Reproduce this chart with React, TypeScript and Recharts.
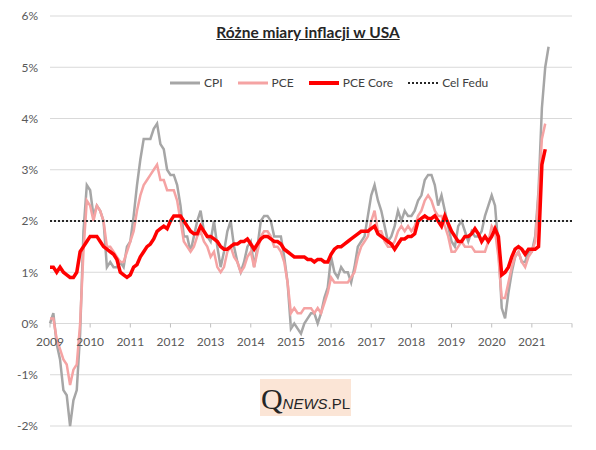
import {
  CartesianGrid,
  Legend,
  Line,
  LineChart,
  ReferenceLine,
  XAxis,
  YAxis,
} from 'recharts';

// monthly y/y inflation, index 0 = Jan 2009
const cpi = [
  0.0, 0.2, -0.4, -0.7, -1.3, -1.4, -2.0, -1.5, -1.3, -0.2, 1.8, 2.7,
  2.6, 2.1, 2.3, 2.2, 2.0, 1.1, 1.2, 1.1, 1.1, 1.2, 1.1, 1.5,
  1.6, 2.1, 2.7, 3.2, 3.6, 3.6, 3.6, 3.8, 3.9, 3.5, 3.4, 3.0,
  2.9, 2.9, 2.7, 2.3, 1.7, 1.7, 1.4, 1.7, 2.0, 2.2, 1.8, 1.7,
  1.6, 2.0, 1.5, 1.1, 1.4, 1.8, 2.0, 1.5, 1.2, 1.0, 1.2, 1.5,
  1.6, 1.1, 1.5, 2.0, 2.1, 2.1, 2.0, 1.7, 1.7, 1.7, 1.3, 0.8,
  -0.1, 0.0, -0.1, -0.2, 0.0, 0.1, 0.2, 0.2, 0.0, 0.2, 0.5, 0.7,
  1.3, 1.0, 0.9, 1.1, 1.0, 1.0, 0.8, 1.1, 1.5, 1.6, 1.7, 2.1,
  2.5, 2.7, 2.4, 2.2, 1.9, 1.6, 1.7, 1.9, 2.2, 2.0, 2.2, 2.1,
  2.1, 2.2, 2.4, 2.5, 2.8, 2.9, 2.9, 2.7, 2.3, 2.5, 2.2, 1.9,
  1.6, 1.5, 1.9, 2.0, 1.8, 1.6, 1.8, 1.7, 1.7, 1.8, 2.1, 2.3,
  2.5, 2.3, 1.5, 0.3, 0.1, 0.6, 1.0, 1.3, 1.4, 1.2, 1.2, 1.4,
  1.4, 1.7, 2.6, 4.2, 5.0, 5.4,
];

const pce = [
  0.1, 0.1, -0.3, -0.5, -0.7, -0.8, -1.2, -0.9, -0.8, 0.0, 1.4, 2.4,
  2.3, 2.0, 2.3, 2.2, 2.0, 1.5, 1.5, 1.4, 1.3, 1.2, 1.2, 1.4,
  1.6, 1.8, 2.2, 2.5, 2.7, 2.8, 2.9, 3.0, 3.1, 2.8, 2.8, 2.6,
  2.6, 2.6, 2.4, 2.0, 1.6, 1.5, 1.4, 1.5, 1.7, 1.8, 1.6, 1.5,
  1.3, 1.4, 1.1, 1.0, 1.1, 1.4, 1.5, 1.3, 1.2, 1.0, 1.1, 1.3,
  1.4, 1.1, 1.4, 1.7, 1.8, 1.8, 1.7, 1.5, 1.5, 1.4, 1.2, 0.8,
  0.2, 0.3, 0.2, 0.2, 0.3, 0.3, 0.3, 0.2, 0.3, 0.2, 0.4, 0.6,
  0.9, 0.8, 0.8, 0.8, 0.8, 0.8, 0.9, 1.0, 1.3, 1.5, 1.6, 1.7,
  2.0, 2.2, 1.8, 1.8, 1.6, 1.5, 1.5, 1.6, 1.8, 1.9, 1.8, 1.9,
  1.8, 1.9, 2.1, 2.2, 2.4, 2.5, 2.4, 2.2, 2.1, 2.1, 1.9, 1.7,
  1.4, 1.4, 1.5, 1.6, 1.5, 1.5, 1.5, 1.4, 1.4, 1.4, 1.4, 1.6,
  1.9, 1.8, 1.3, 0.5, 0.5, 0.8, 1.1, 1.3, 1.4, 1.2, 1.1, 1.3,
  1.4, 1.6, 2.5, 3.6, 3.9,
];

const pceCore = [
  1.1, 1.1, 1.0, 1.1, 1.0, 0.95, 0.9, 0.9, 1.0, 1.4, 1.5, 1.6,
  1.7, 1.7, 1.7, 1.6, 1.5, 1.45, 1.4, 1.35, 1.25, 1.0, 0.95, 0.9,
  0.95, 1.1, 1.15, 1.3, 1.4, 1.5, 1.55, 1.65, 1.8, 1.85, 1.9, 1.85,
  2.0, 2.1, 2.1, 2.1, 2.0, 1.9, 1.8, 1.75, 1.75, 1.9, 1.8, 1.7,
  1.7, 1.65, 1.6, 1.5, 1.45, 1.45, 1.5, 1.55, 1.55, 1.6, 1.6, 1.65,
  1.55, 1.45, 1.55, 1.65, 1.7, 1.7, 1.65, 1.6, 1.6, 1.55, 1.45, 1.4,
  1.35, 1.3, 1.3, 1.3, 1.3, 1.25, 1.25, 1.2, 1.25, 1.25, 1.2, 1.2,
  1.35, 1.45, 1.5, 1.5, 1.55, 1.6, 1.65, 1.7, 1.75, 1.8, 1.8, 1.8,
  1.85, 1.9, 1.75, 1.7, 1.65, 1.6, 1.55, 1.45, 1.55, 1.65, 1.65, 1.7,
  1.7, 1.75, 2.0, 2.05, 2.1, 2.05, 2.05, 2.1, 2.0, 1.9, 2.1, 1.95,
  1.8, 1.7, 1.6, 1.6, 1.7, 1.7, 1.75, 1.85, 1.75, 1.6, 1.7, 1.6,
  1.7, 1.85, 1.7, 0.95, 1.0, 1.1, 1.3, 1.45, 1.5, 1.45, 1.35, 1.45,
  1.45, 1.45, 1.5, 3.1, 3.4,
];

const FED_TARGET = 2;
const yearLabels = [
  '2009', '2010', '2011', '2012', '2013', '2014', '2015',
  '2016', '2017', '2018', '2019', '2020', '2021', '',
];
const yTicks = [-2, -1, 0, 1, 2, 3, 4, 5, 6];

const MONTHS = (yearLabels.length - 1) * 12;
const data = Array.from({ length: MONTHS + 1 }, (_, i) => ({
  i,
  cpi: cpi[i] ?? null,
  pce: pce[i] ?? null,
  core: pceCore[i] ?? null,
}));

const W = 580;
const H = 434;
const MARGIN = { top: 8, right: 16, bottom: 0, left: 0 };
const X_AXIS_H = 16;
const PLOT_H = H - MARGIN.top - MARGIN.bottom - X_AXIS_H;
// the year labels hang off the 0% line, not the -2% floor
const ZERO_SHIFT = (PLOT_H * (0 - yTicks[0])) / (yTicks[yTicks.length - 1] - yTicks[0]);

const CPI_COLOR = '#a6a6a6';
const PCE_COLOR = '#f5a3a3';
const CORE_COLOR = '#ff0000';
const TEXT_COLOR = '#595959';
const FONT = 'Lato, "Liberation Sans", sans-serif';

const YearTick = ({ x, y, payload }: any) => {
  const label = yearLabels[Math.round(payload.value / 12)];
  const y0 = y - ZERO_SHIFT;
  return (
    <g>
      <line x1={x} x2={x} y1={y0} y2={y0 + 4} stroke="#bfbfbf" />
      <text x={x} y={y0 + 22} textAnchor="middle" fontSize={12} fill={TEXT_COLOR} fontFamily={FONT}>
        {label}
      </text>
    </g>
  );
};

const legendItems = [
  { label: 'CPI', color: CPI_COLOR, width: 3, dash: undefined },
  { label: 'PCE', color: PCE_COLOR, width: 3, dash: undefined },
  { label: 'PCE Core', color: CORE_COLOR, width: 4, dash: undefined },
  { label: 'Cel Fedu', color: '#262626', width: 2, dash: '2 2' },
];

const renderLegend = () => (
  <div style={{ display: 'flex', alignItems: 'center', gap: 15, fontFamily: FONT, fontSize: 12, color: '#404040' }}>
    {legendItems.map((item) => (
      <div key={item.label} style={{ display: 'flex', alignItems: 'center', gap: 4 }}>
        <svg width={30} height={6}>
          <line x1={0} x2={30} y1={3} y2={3} stroke={item.color} strokeWidth={item.width} strokeDasharray={item.dash} />
        </svg>
        <span>{item.label}</span>
      </div>
    ))}
  </div>
);

export default function App() {
  return (
    <div style={{ position: 'relative', width: W, height: H, fontFamily: FONT }}>
      <LineChart width={W} height={H} data={data} margin={MARGIN}>
        <CartesianGrid vertical={false} stroke="#d9d9d9" />
        <XAxis
          dataKey="i"
          type="number"
          domain={[0, MONTHS]}
          ticks={yearLabels.map((_, k) => k * 12)}
          interval={0}
          height={X_AXIS_H}
          axisLine={false}
          tickLine={false}
          tickSize={0}
          tickMargin={0}
          tick={<YearTick />}
        />
        <YAxis
          domain={[yTicks[0], yTicks[yTicks.length - 1]]}
          ticks={yTicks}
          width={42}
          axisLine={false}
          tickLine={false}
          tickMargin={6}
          tickFormatter={(v) => `${v}%`}
          tick={{ fontSize: 12, fill: TEXT_COLOR, fontFamily: FONT }}
        />
        <Legend
          layout="horizontal"
          verticalAlign="middle"
          align="center"
          content={renderLegend}
          wrapperStyle={{ top: 67, left: 162, width: 'auto', height: 16 }}
        />
        <Line dataKey="cpi" stroke={CPI_COLOR} strokeWidth={2.5} dot={false} isAnimationActive={false} />
        <Line dataKey="pce" stroke={PCE_COLOR} strokeWidth={2.5} dot={false} isAnimationActive={false} />
        <Line dataKey="core" stroke={CORE_COLOR} strokeWidth={3.5} dot={false} isAnimationActive={false} />
        <ReferenceLine y={FED_TARGET} stroke="#262626" strokeWidth={2} strokeDasharray="2 2" />
      </LineChart>

      <div
        style={{
          position: 'absolute',
          left: 300,
          top: 15,
          transform: 'translateX(-50%)',
          fontSize: 15.5,
          fontWeight: 700,
          color: '#262626',
          textDecoration: 'underline',
          whiteSpace: 'nowrap',
        }}
      >
        Różne miary inflacji w USA
      </div>

      <div
        style={{
          position: 'absolute',
          left: 252,
          top: 371,
          width: 91,
          height: 37,
          background: '#fbe5d6',
          display: 'flex',
          alignItems: 'baseline',
          justifyContent: 'center',
          paddingTop: 5,
          boxSizing: 'border-box',
          color: '#262626',
        }}
      >
        <span style={{ fontFamily: '"Liberation Serif", serif', fontSize: 30, lineHeight: 1 }}>Q</span>
        <span style={{ fontFamily: '"Liberation Sans", sans-serif', fontSize: 15, fontStyle: 'italic' }}>NEWS</span>
        <span style={{ fontFamily: '"Liberation Sans", sans-serif', fontSize: 15 }}>.PL</span>
      </div>
    </div>
  );
}
